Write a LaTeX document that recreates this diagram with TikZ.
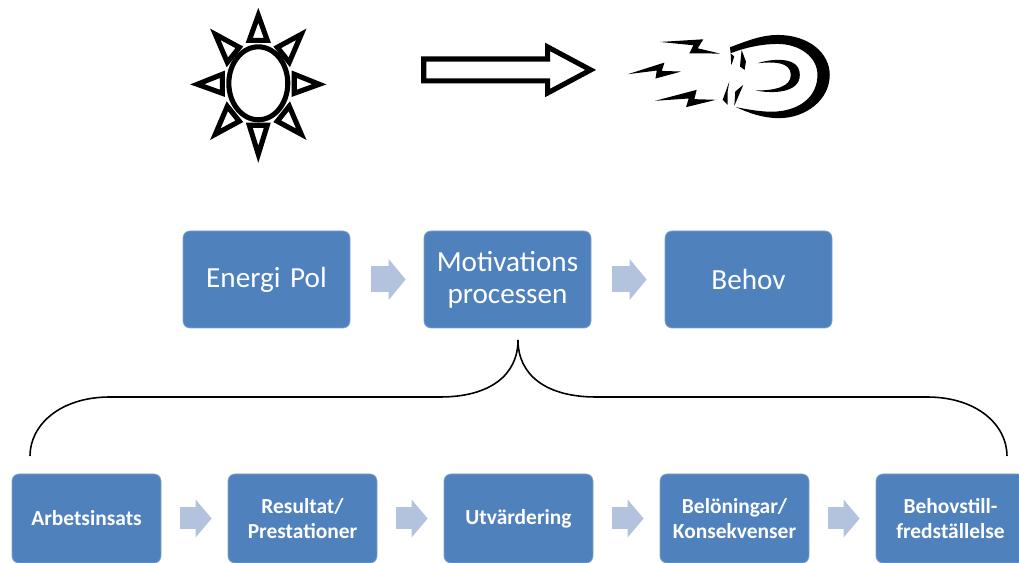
\documentclass[tikz,border=0pt]{standalone}
\usepackage{fontspec}
\setmainfont{Carlito}
\usetikzlibrary{arrows.meta}
\definecolor{boxblue}{HTML}{4F81BD}
\definecolor{boxedge}{HTML}{7FA3CF}
\definecolor{pilblue}{HTML}{B3C3DE}
\tikzstyle{topbox} = [rectangle, rounded corners=0.07cm, minimum width=1.67cm, minimum height=0.97cm, inner sep=0pt, text width=1.6cm, align=center, fill=boxblue, draw=boxedge, line width=0.2pt, text=white, font=\fontsize{8.3}{9.1}\selectfont]
\tikzstyle{lowbox} = [rectangle, rounded corners=0.07cm, minimum width=1.49cm, minimum height=0.89cm, inner sep=0pt, text width=1.45cm, align=center, fill=boxblue, draw=boxedge, line width=0.2pt, text=white, font=\fontsize{6.1}{7.1}\selectfont\bfseries]
\tikzstyle{toppil} = [pilblue, line width=0.26cm, -{Triangle[length=0.17cm, width=0.40cm]}, shorten <=0.21cm, shorten >=0.18cm]
\tikzstyle{lowpil} = [pilblue, line width=0.22cm, -{Triangle[length=0.16cm, width=0.37cm]}, shorten <=0.19cm, shorten >=0.16cm]
\tikzstyle{ikon} = [black, line width=1.45pt, miter limit=10]
\tikzstyle{brace} = [black, line width=0.45pt]

\begin{document}
\begin{tikzpicture}[node distance=2.41cm]
  \useasboundingbox (0,0) rectangle (10.19,5.63);

  % top row
  \node (energi) [topbox] at (2.665,2.835) {Energi Pol};
  \node (motiv) [topbox, right of=energi] {Motivations\\processen};
  \node (behov) [topbox, right of=motiv] {Behov};

  \draw [toppil] (energi) -- (motiv);
  \draw [toppil] (motiv) -- (behov);

  % bottom row
  \begin{scope}[node distance=2.16cm]
    \node (arbete) [lowbox] at (0.865,0.445) {Arbetsinsats};
    \node (resultat) [lowbox, right of=arbete] {Resultat/\\Prestationer};
    \node (utvard) [lowbox, right of=resultat] {Utvärdering};
    \node (belon) [lowbox, right of=utvard] {Belöningar/\\Konsekvenser};
    \node (tillfr) [lowbox, right of=belon] {Behovstill-\\fredställelse};
  \end{scope}

  \draw [lowpil] (arbete) -- (resultat);
  \draw [lowpil] (resultat) -- (utvard);
  \draw [lowpil] (utvard) -- (belon);
  \draw [lowpil] (belon) -- (tillfr);

  % brace
  \coordinate (topp) at (5.18,2.23);
  \coordinate (vanster) at (0.30,1.07);
  \coordinate (hoger) at (10.07,1.07);
  \draw [brace] (topp) .. controls (5.18,1.88) and (4.90,1.66) .. (4.40,1.66) -- (1.10,1.66) .. controls (0.60,1.66) and (0.30,1.38) .. (vanster);
  \draw [brace] (topp) .. controls (5.18,1.88) and (5.46,1.66) .. (5.96,1.66) -- (9.27,1.66) .. controls (9.77,1.66) and (10.07,1.38) .. (hoger);

  % sun
  \begin{scope}[shift={(2.583cm,4.797cm)}, x=0.01cm, y=-0.01cm]
    \draw [ikon] (0,0) ellipse (29.5 and 36.5);
    \draw [ikon] (0,-68) -- (9,-43) -- (-9,-43) -- cycle;
    \draw [ikon] (0,71) -- (9,42) -- (-9,42) -- cycle;
    \draw [ikon] (61,1) -- (36,-9) -- (36,10) -- cycle;
    \draw [ikon] (-61,1) -- (-36,-9) -- (-36,10) -- cycle;
    \draw [ikon] (43,-49) -- (19,-36) -- (31,-21) -- cycle;
    \draw [ikon] (-43,-49) -- (-19,-36) -- (-31,-21) -- cycle;
    \draw [ikon] (43,51) -- (31,23) -- (19,38) -- cycle;
    \draw [ikon] (-43,51) -- (-31,23) -- (-19,38) -- cycle;
  \end{scope}

  % big arrow
  \begin{scope}[shift={(0cm,5.63cm)}, x=0.01cm, y=-0.01cm]
    \draw [ikon] (424,59) -- (548,59) -- (548,47) -- (591,70) -- (548,93) -- (548,81) -- (424,81) -- cycle;
  \end{scope}

  % comet
  \begin{scope}[shift={(4.10cm,5.43cm)}, x=0.00333cm, y=-0.00333cm]
    \fill (752,66) -- (882,58) -- (865,85) -- (932,101) -- (840,100) -- (852,76) -- cycle;
    \fill (655,163) -- (765,128) -- (757,153) -- (815,155) -- (738,176) -- (742,152) -- cycle;
    \fill (737,243) -- (862,210) -- (855,238) -- (920,240) -- (830,262) -- (838,236) -- cycle;
    \fill (962,82) .. controls (1020,60) and (1060,45) .. (1105,45) .. controls (1200,45) and (1262,100) .. (1262,165) .. controls (1262,240) and (1190,295) .. (1110,295) .. controls (1060,295) and (1020,280) .. (980,262) .. controls (1030,272) and (1070,278) .. (1105,275) .. controls (1180,268) and (1225,225) .. (1225,165) .. controls (1225,110) and (1170,72) .. (1105,72) .. controls (1060,72) and (1010,82) .. (964,100) -- cycle;
    \fill (1045,130) .. controls (1080,118) and (1172,105) .. (1172,165) .. controls (1172,220) and (1090,222) .. (1040,212) .. controls (1100,212) and (1145,200) .. (1145,165) .. controls (1145,125) and (1090,125) .. (1045,130) -- cycle;
    \fill (997,90) -- (1010,125) -- (1006,150) -- (992,140) -- cycle;
    \fill (964,100) -- (975,110) -- (966,136) -- cycle;
    \fill (1002,195) -- (975,258) -- (978,215) -- cycle;
    \fill (960,185) -- (940,240) -- (955,255) -- (955,215) -- cycle;
  \end{scope}

\end{tikzpicture}
\end{document}
